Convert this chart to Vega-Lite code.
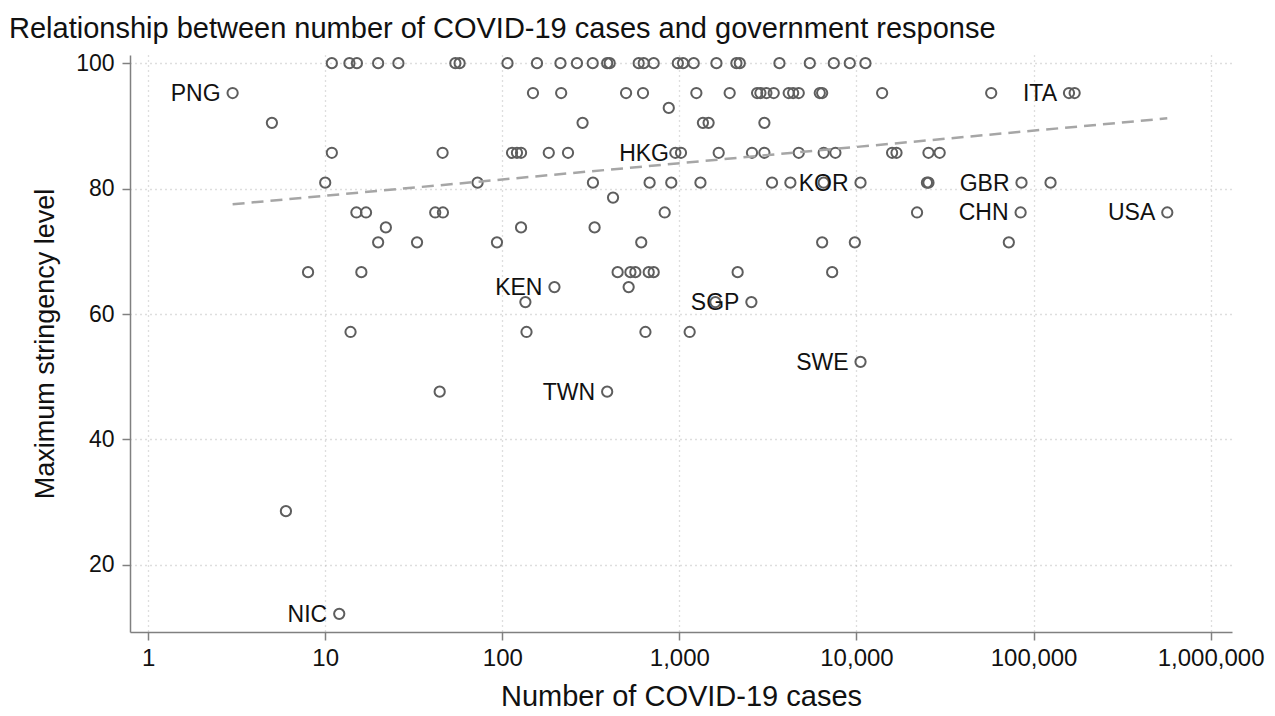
{
  "$schema": "https://vega.github.io/schema/vega-lite/v6.json",
  "autosize": {"type": "none"},
  "padding": {"left": 130, "top": 55, "right": 43, "bottom": 84},
  "width": 1102,
  "height": 577,
  "background": "white",
  "config": {
    "font": "Liberation Sans",
    "view": {"stroke": null},
    "axis": {
      "labelFont": "Liberation Sans",
      "titleFont": "Liberation Sans",
      "labelFontSize": 24,
      "titleFontSize": 28,
      "titleFontWeight": "normal",
      "labelColor": "#111",
      "titleColor": "#111",
      "domainColor": "#808080",
      "domainWidth": 1.5,
      "tickColor": "#808080",
      "tickWidth": 1.5,
      "tickSize": 8,
      "grid": true,
      "gridColor": "#bdbdbd",
      "gridDash": [1, 4],
      "gridWidth": 1.3
    }
  },
  "title": {
    "text": "Relationship between number of COVID-19 cases and government response",
    "anchor": "start",
    "frame": "group",
    "dx": -121,
    "offset": 8,
    "fontSize": 29,
    "fontWeight": "normal",
    "color": "#111",
    "font": "Liberation Sans"
  },
  "datasets": {
    "pts": [
      {"cases": 10.9, "stringency": 100}, {"cases": 13.7, "stringency": 100}, {"cases": 15.1, "stringency": 100}, {"cases": 19.9, "stringency": 100}, {"cases": 25.9, "stringency": 100},
      {"cases": 54.3, "stringency": 100}, {"cases": 57.4, "stringency": 100}, {"cases": 107, "stringency": 100}, {"cases": 157, "stringency": 100}, {"cases": 213, "stringency": 100},
      {"cases": 264, "stringency": 100}, {"cases": 324, "stringency": 100}, {"cases": 391, "stringency": 100}, {"cases": 404, "stringency": 100}, {"cases": 589, "stringency": 100},
      {"cases": 629, "stringency": 100}, {"cases": 716, "stringency": 100}, {"cases": 980, "stringency": 100}, {"cases": 1049, "stringency": 100}, {"cases": 1205, "stringency": 100},
      {"cases": 1619, "stringency": 100}, {"cases": 2099, "stringency": 100}, {"cases": 2193, "stringency": 100}, {"cases": 3673, "stringency": 100}, {"cases": 5451, "stringency": 100},
      {"cases": 7447, "stringency": 100}, {"cases": 9166, "stringency": 100}, {"cases": 11236, "stringency": 100},
      {"cases": 3.0, "stringency": 95.24, "label": "PNG"}, {"cases": 149, "stringency": 95.24}, {"cases": 215, "stringency": 95.24}, {"cases": 500, "stringency": 95.24}, {"cases": 623, "stringency": 95.24},
      {"cases": 1247, "stringency": 95.24}, {"cases": 1923, "stringency": 95.24}, {"cases": 2747, "stringency": 95.24}, {"cases": 2868, "stringency": 95.24}, {"cases": 3100, "stringency": 95.24},
      {"cases": 3410, "stringency": 95.24}, {"cases": 4142, "stringency": 95.24}, {"cases": 4389, "stringency": 95.24}, {"cases": 4721, "stringency": 95.24}, {"cases": 6205, "stringency": 95.24},
      {"cases": 6400, "stringency": 95.24}, {"cases": 13960, "stringency": 95.24}, {"cases": 57650, "stringency": 95.24}, {"cases": 158500, "stringency": 95.24, "label": "ITA"}, {"cases": 170600, "stringency": 95.24},
      {"cases": 871, "stringency": 92.86},
      {"cases": 5.0, "stringency": 90.48}, {"cases": 284, "stringency": 90.48}, {"cases": 1358, "stringency": 90.48}, {"cases": 1462, "stringency": 90.48}, {"cases": 3020, "stringency": 90.48},
      {"cases": 10.9, "stringency": 85.71}, {"cases": 46, "stringency": 85.71}, {"cases": 113.5, "stringency": 85.71}, {"cases": 121, "stringency": 85.71}, {"cases": 127.6, "stringency": 85.71},
      {"cases": 183, "stringency": 85.71}, {"cases": 235, "stringency": 85.71}, {"cases": 949, "stringency": 85.71}, {"cases": 1021, "stringency": 85.71, "label": "HKG"}, {"cases": 1667, "stringency": 85.71},
      {"cases": 2570, "stringency": 85.71}, {"cases": 3020, "stringency": 85.71}, {"cases": 4721, "stringency": 85.71}, {"cases": 6530, "stringency": 85.71}, {"cases": 7603, "stringency": 85.71},
      {"cases": 15890, "stringency": 85.71}, {"cases": 16830, "stringency": 85.71}, {"cases": 25500, "stringency": 85.71}, {"cases": 29500, "stringency": 85.71},
      {"cases": 10.0, "stringency": 80.95}, {"cases": 72.5, "stringency": 80.95}, {"cases": 325, "stringency": 80.95}, {"cases": 679, "stringency": 80.95}, {"cases": 900, "stringency": 80.95},
      {"cases": 1315, "stringency": 80.95}, {"cases": 3335, "stringency": 80.95}, {"cases": 4234, "stringency": 80.95}, {"cases": 6530, "stringency": 80.95}, {"cases": 10540, "stringency": 80.95, "label": "KOR"},
      {"cases": 25000, "stringency": 80.95}, {"cases": 25500, "stringency": 80.95}, {"cases": 85500, "stringency": 80.95, "label": "GBR"}, {"cases": 124700, "stringency": 80.95},
      {"cases": 422, "stringency": 78.57},
      {"cases": 15.0, "stringency": 76.19}, {"cases": 17.0, "stringency": 76.19}, {"cases": 41.8, "stringency": 76.19}, {"cases": 46.2, "stringency": 76.19}, {"cases": 826, "stringency": 76.19},
      {"cases": 21980, "stringency": 76.19}, {"cases": 84500, "stringency": 76.19, "label": "CHN"}, {"cases": 569000, "stringency": 76.19, "label": "USA"},
      {"cases": 22.0, "stringency": 73.81}, {"cases": 127.6, "stringency": 73.81}, {"cases": 332, "stringency": 73.81},
      {"cases": 19.9, "stringency": 71.43}, {"cases": 33, "stringency": 71.43}, {"cases": 93.3, "stringency": 71.43}, {"cases": 609, "stringency": 71.43}, {"cases": 6400, "stringency": 71.43},
      {"cases": 9790, "stringency": 71.43}, {"cases": 72500, "stringency": 71.43},
      {"cases": 8.0, "stringency": 66.67}, {"cases": 16.0, "stringency": 66.67}, {"cases": 448, "stringency": 66.67}, {"cases": 529, "stringency": 66.67}, {"cases": 564, "stringency": 66.67},
      {"cases": 671, "stringency": 66.67}, {"cases": 716, "stringency": 66.67}, {"cases": 2133, "stringency": 66.67}, {"cases": 7290, "stringency": 66.67},
      {"cases": 197, "stringency": 64.29, "label": "KEN"}, {"cases": 517, "stringency": 64.29},
      {"cases": 135, "stringency": 61.9}, {"cases": 1597, "stringency": 61.9}, {"cases": 2550, "stringency": 61.9, "label": "SGP"},
      {"cases": 13.9, "stringency": 57.14}, {"cases": 137, "stringency": 57.14}, {"cases": 643, "stringency": 57.14}, {"cases": 1143, "stringency": 57.14},
      {"cases": 10540, "stringency": 52.38, "label": "SWE"},
      {"cases": 44.3, "stringency": 47.62}, {"cases": 391, "stringency": 47.62, "label": "TWN"},
      {"cases": 6.0, "stringency": 28.57},
      {"cases": 12.0, "stringency": 12.2, "label": "NIC"}
    ],
    "fit": [
      {"cases": 3.0, "stringency": 77.5},
      {"cases": 569000, "stringency": 91.2}
    ]
  },
  "encoding": {
    "x": {
      "field": "cases", "type": "quantitative",
      "scale": {"type": "log", "domain": [0.79, 1320000], "nice": false},
      "axis": {"title": "Number of COVID-19 cases", "titleFontSize": 29, "values": [1, 10, 100, 1000, 10000, 100000, 1000000], "format": ",", "labelPadding": 6, "titlePadding": 12, "labelFlush": false, "labelOverlap": false}
    },
    "y": {
      "field": "stringency", "type": "quantitative",
      "scale": {"domain": [9.3, 101.3], "nice": false, "zero": false},
      "axis": {"title": "Maximum stringency level", "titleFontSize": 27, "values": [20, 40, 60, 80, 100], "labelFontSize": 23, "labelPadding": 8, "titlePadding": 16}
    }
  },
  "layer": [
    {
      "data": {"name": "pts"},
      "mark": {"type": "point", "shape": "circle", "filled": false, "size": 105, "strokeWidth": 2, "color": "#5e5e5e", "opacity": 1}
    },
    {
      "data": {"name": "pts"},
      "transform": [{"filter": "datum.label != null"}],
      "mark": {"type": "text", "align": "right", "baseline": "middle", "dx": -12, "dy": 1, "fontSize": 23, "color": "#111", "font": "Liberation Sans"},
      "encoding": {"text": {"field": "label", "type": "nominal"}}
    },
    {
      "data": {"name": "fit"},
      "mark": {"type": "line", "color": "#a6a6a6", "strokeWidth": 2.5, "strokeDash": [12, 7]},
      "encoding": {}
    }
  ]
}
